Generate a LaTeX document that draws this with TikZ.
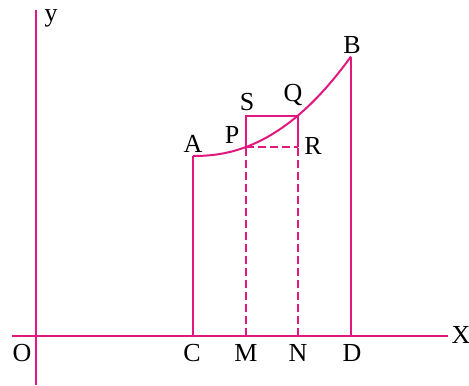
\documentclass[tikz,border=0pt]{standalone}
\usepackage{fontspec}
\setmainfont{Liberation Serif}
\usetikzlibrary{positioning}
\definecolor{CurvePink}{HTML}{E2177F}

\tikzset{
  pinkline/.style={draw=CurvePink, line width=1pt},
  pinkdash/.style={pinkline, dash pattern=on 4pt off 2pt},
  ptlabel/.style={font=\fontsize{13}{15}\selectfont, inner sep=0pt},
}

\begin{document}
\begin{tikzpicture}[x=0.5pt,y=-0.5pt]
  \useasboundingbox (0,0) rectangle (469,385);

  % axes
  \coordinate (xl) at (12,336);
  \coordinate (xr) at (448,336);
  \coordinate (yt) at (36,10);
  \coordinate (yb) at (36,385);
  \draw[pinkline] (xl) -- (xr);
  \draw[pinkline] (yt) -- (yb);

  % points on the axis and on the curve
  \coordinate (C) at (193,336);
  \coordinate (M) at (246,336);
  \coordinate (N) at (298,336);
  \coordinate (D) at (351,336);
  \coordinate (A) at (193,156);
  \coordinate (P) at (246,147);
  \coordinate (Q) at (298,116);
  \coordinate (B) at (351,57);
  \coordinate (S) at (246,116);
  \coordinate (R) at (298,147);

  % the curve AB
  \draw[pinkline] (A) -- plot[domain=0.001:1.58, samples=60] ({193+100*\x},{156-36.4*\x^2.2});

  \draw[pinkline] (C) -- (A);
  \draw[pinkline] (D) -- (B);
  \draw[pinkdash] (M) -- (P);
  \draw[pinkdash] (N) -- (R);
  \draw[pinkdash] (P) -- (R);
  \draw[pinkline] (P) -- (S) -- (Q) -- (R);

  % labels
  \node[ptlabel] (lO) at (22,353) {O};
  \node[ptlabel] (lC) at (192,353) {C};
  \node[ptlabel] (lM) at (246,353) {M};
  \node[ptlabel] (lN) at (298,353) {N};
  \node[ptlabel] (lD) at (352,353) {D};
  \node[ptlabel] (lX) at (461,335) {X};
  \node[ptlabel] (ly) at (51,18) {y};
  \node[ptlabel] (lA) at (193,144) {A};
  \node[ptlabel] (lP) at (232,135) {P};
  \node[ptlabel] (lS) at (247,102) {S};
  \node[ptlabel] (lQ) at (293,95) {Q};
  \node[ptlabel] (lR) at (313,146) {R};
  \node[ptlabel] (lB) at (352,45) {B};
\end{tikzpicture}
\end{document}
